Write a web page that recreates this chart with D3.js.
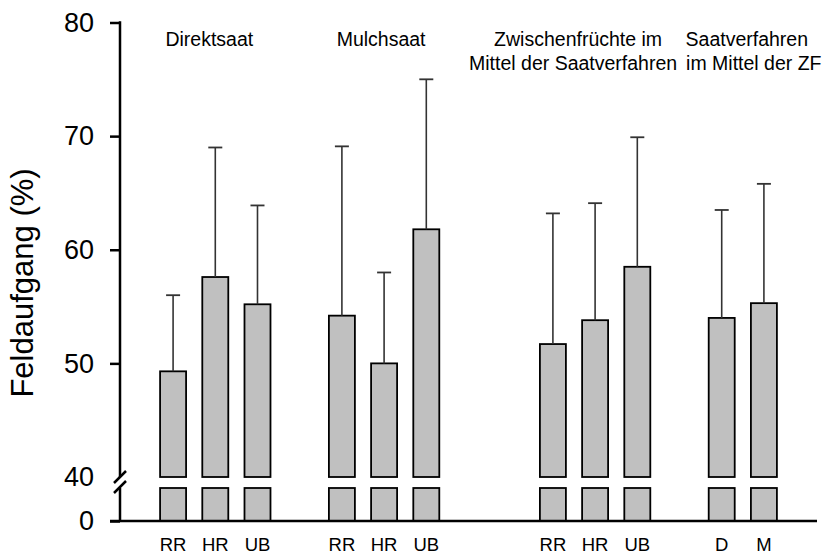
<!DOCTYPE html>
<html>
<head>
<meta charset="utf-8">
<script src="https://cdn.jsdelivr.net/npm/d3@7"></script>
<style>
  html, body { margin: 0; padding: 0; background: #fff; }
  svg text { font-family: "Liberation Sans", Arial, sans-serif; fill: #000; }
</style>
</head>
<body>
<svg id="chart" width="832" height="555"></svg>
<script>
// ---------------- data ----------------
const groupTitles = [
  ["Direktsaat"],
  ["Mulchsaat"],
  ["Zwischenfrüchte im", "Mittel der Saatverfahren"],
  ["Saatverfahren", "im Mittel der ZF"]
];
const categories = ["RR", "HR", "UB", "RR", "HR", "UB", "RR", "HR", "UB", "D", "M"];
const groupOf    = [0, 0, 0, 1, 1, 1, 2, 2, 2, 3, 3];
const means      = [49.3, 57.6, 55.2, 54.2, 50.0, 61.8, 51.7, 53.8, 58.5, 54.0, 55.3];
const upperErr   = [56.0, 69.0, 63.9, 69.1, 58.0, 75.0, 63.2, 64.1, 69.9, 63.5, 65.8];
const yTicksUpper = [40, 50, 60, 70, 80];
const yTicksLower = [0];
const yTitle = "Feldaufgang (%)";

// ---------------- layout ----------------
const svg = d3.select("#chart");
const axisX = 120, plotTop = 22.5, base = 521, plotRight = 817;
const gapSlots = [1, 2, 1]; // empty slots after group 0,1,2

const slots = [];
const barSlot = [];
categories.forEach((c, i) => {
  if (i > 0 && groupOf[i] !== groupOf[i - 1]) {
    for (let g = 0; g < gapSlots[groupOf[i - 1]]; g++) slots.push("gap" + groupOf[i - 1] + "_" + g);
  }
  const key = "bar" + i;
  barSlot.push(key);
  slots.push(key);
});

const x = d3.scaleBand().domain(slots).range([axisX, plotRight]).paddingInner(0.384).paddingOuter(0.95).align(0.5);
const yUp = d3.scaleLinear().domain([40, 80]).range([477, plotTop]);
const yLow = d3.scaleLinear().domain([0, 40]).range([base, 488]);

const font = '"Liberation Sans", Arial, sans-serif';

// ---------------- bars ----------------
const bars = svg.append("g");
categories.forEach((c, i) => {
  const bx = x(barSlot[i]), bw = x.bandwidth();
  bars.append("rect")
    .attr("x", bx).attr("y", yLow(40))
    .attr("width", bw).attr("height", yLow(0) - yLow(40))
    .attr("fill", "#c0c0c0").attr("stroke", "#000").attr("stroke-width", 1.8);
  bars.append("rect")
    .attr("x", bx).attr("y", yUp(means[i]))
    .attr("width", bw).attr("height", yUp(40) - yUp(means[i]))
    .attr("fill", "#c0c0c0").attr("stroke", "#000").attr("stroke-width", 1.8);
  const cx = bx + bw / 2;
  bars.append("line")
    .attr("x1", cx).attr("x2", cx)
    .attr("y1", yUp(means[i])).attr("y2", yUp(upperErr[i]))
    .attr("stroke", "#333").attr("stroke-width", 1.6);
  bars.append("line")
    .attr("x1", cx - 7).attr("x2", cx + 7)
    .attr("y1", yUp(upperErr[i])).attr("y2", yUp(upperErr[i]))
    .attr("stroke", "#333").attr("stroke-width", 1.8);
});

// ---------------- y axis ----------------
const gyUp = svg.append("g").attr("transform", `translate(${axisX},0)`)
  .call(d3.axisLeft(yUp).tickValues(yTicksUpper).tickSize(10).tickPadding(16).tickFormat(d3.format("d")));
gyUp.select(".domain").remove();
gyUp.selectAll(".tick line").attr("stroke", "#000").attr("stroke-width", 2.5)
  .filter(d => d === 40).remove();
gyUp.selectAll(".tick text").attr("font-size", 27).attr("font-family", font).attr("fill", "#000");

const gyLow = svg.append("g").attr("transform", `translate(${axisX},0)`)
  .call(d3.axisLeft(yLow).tickValues(yTicksLower).tickSize(10).tickPadding(16).tickFormat(d3.format("d")));
gyLow.select(".domain").remove();
gyLow.selectAll(".tick line").attr("stroke", "#000").attr("stroke-width", 2.5);
gyLow.selectAll(".tick text").attr("font-size", 27).attr("font-family", font).attr("fill", "#000");

const axisG = svg.append("g").attr("stroke", "#000").attr("stroke-width", 2.5).attr("fill", "none");
axisG.append("line").attr("x1", axisX).attr("x2", axisX).attr("y1", plotTop - 1.25).attr("y2", yUp(40));
axisG.append("line").attr("x1", axisX).attr("x2", axisX).attr("y1", yUp(40) + 11).attr("y2", base);
[yUp(40), yUp(40) + 10].forEach(yc => {
  axisG.append("line").attr("x1", axisX - 6).attr("x2", axisX + 6)
    .attr("y1", yc + 6).attr("y2", yc - 6);
});

// ---------------- x axis ----------------
const gx = svg.append("g").attr("transform", `translate(0,${base})`)
  .call(d3.axisBottom(x).tickValues(barSlot).tickSize(0).tickPadding(17)
    .tickFormat(k => categories[barSlot.indexOf(k)]));
gx.select(".domain").remove();
gx.selectAll(".tick text").attr("font-size", 18.5).attr("font-family", font).attr("fill", "#000");
svg.append("line").attr("x1", axisX - 10).attr("x2", plotRight)
  .attr("y1", base).attr("y2", base).attr("stroke", "#000").attr("stroke-width", 2.5);

// ---------------- group titles ----------------
const titleDx = [[-6], [-3], [-17, -22], [4, 11]];
groupTitles.forEach((lines, g) => {
  const idx = groupOf.map((v, i) => v === g ? i : -1).filter(i => i >= 0);
  const c0 = x(barSlot[idx[0]]), c1 = x(barSlot[idx[idx.length - 1]]) + x.bandwidth();
  const cx = (c0 + c1) / 2;
  lines.forEach((t, li) => {
    svg.append("text")
      .attr("x", cx + titleDx[g][li]).attr("y", 46 + li * 24)
      .attr("text-anchor", "middle").attr("font-size", 19.5).attr("font-family", font)
      .text(t);
  });
});

// ---------------- y title ----------------
svg.append("text")
  .attr("transform", `translate(33,283) rotate(-90)`)
  .attr("text-anchor", "middle").attr("font-size", 31).attr("font-family", font)
  .text(yTitle);
</script>
</body>
</html>
